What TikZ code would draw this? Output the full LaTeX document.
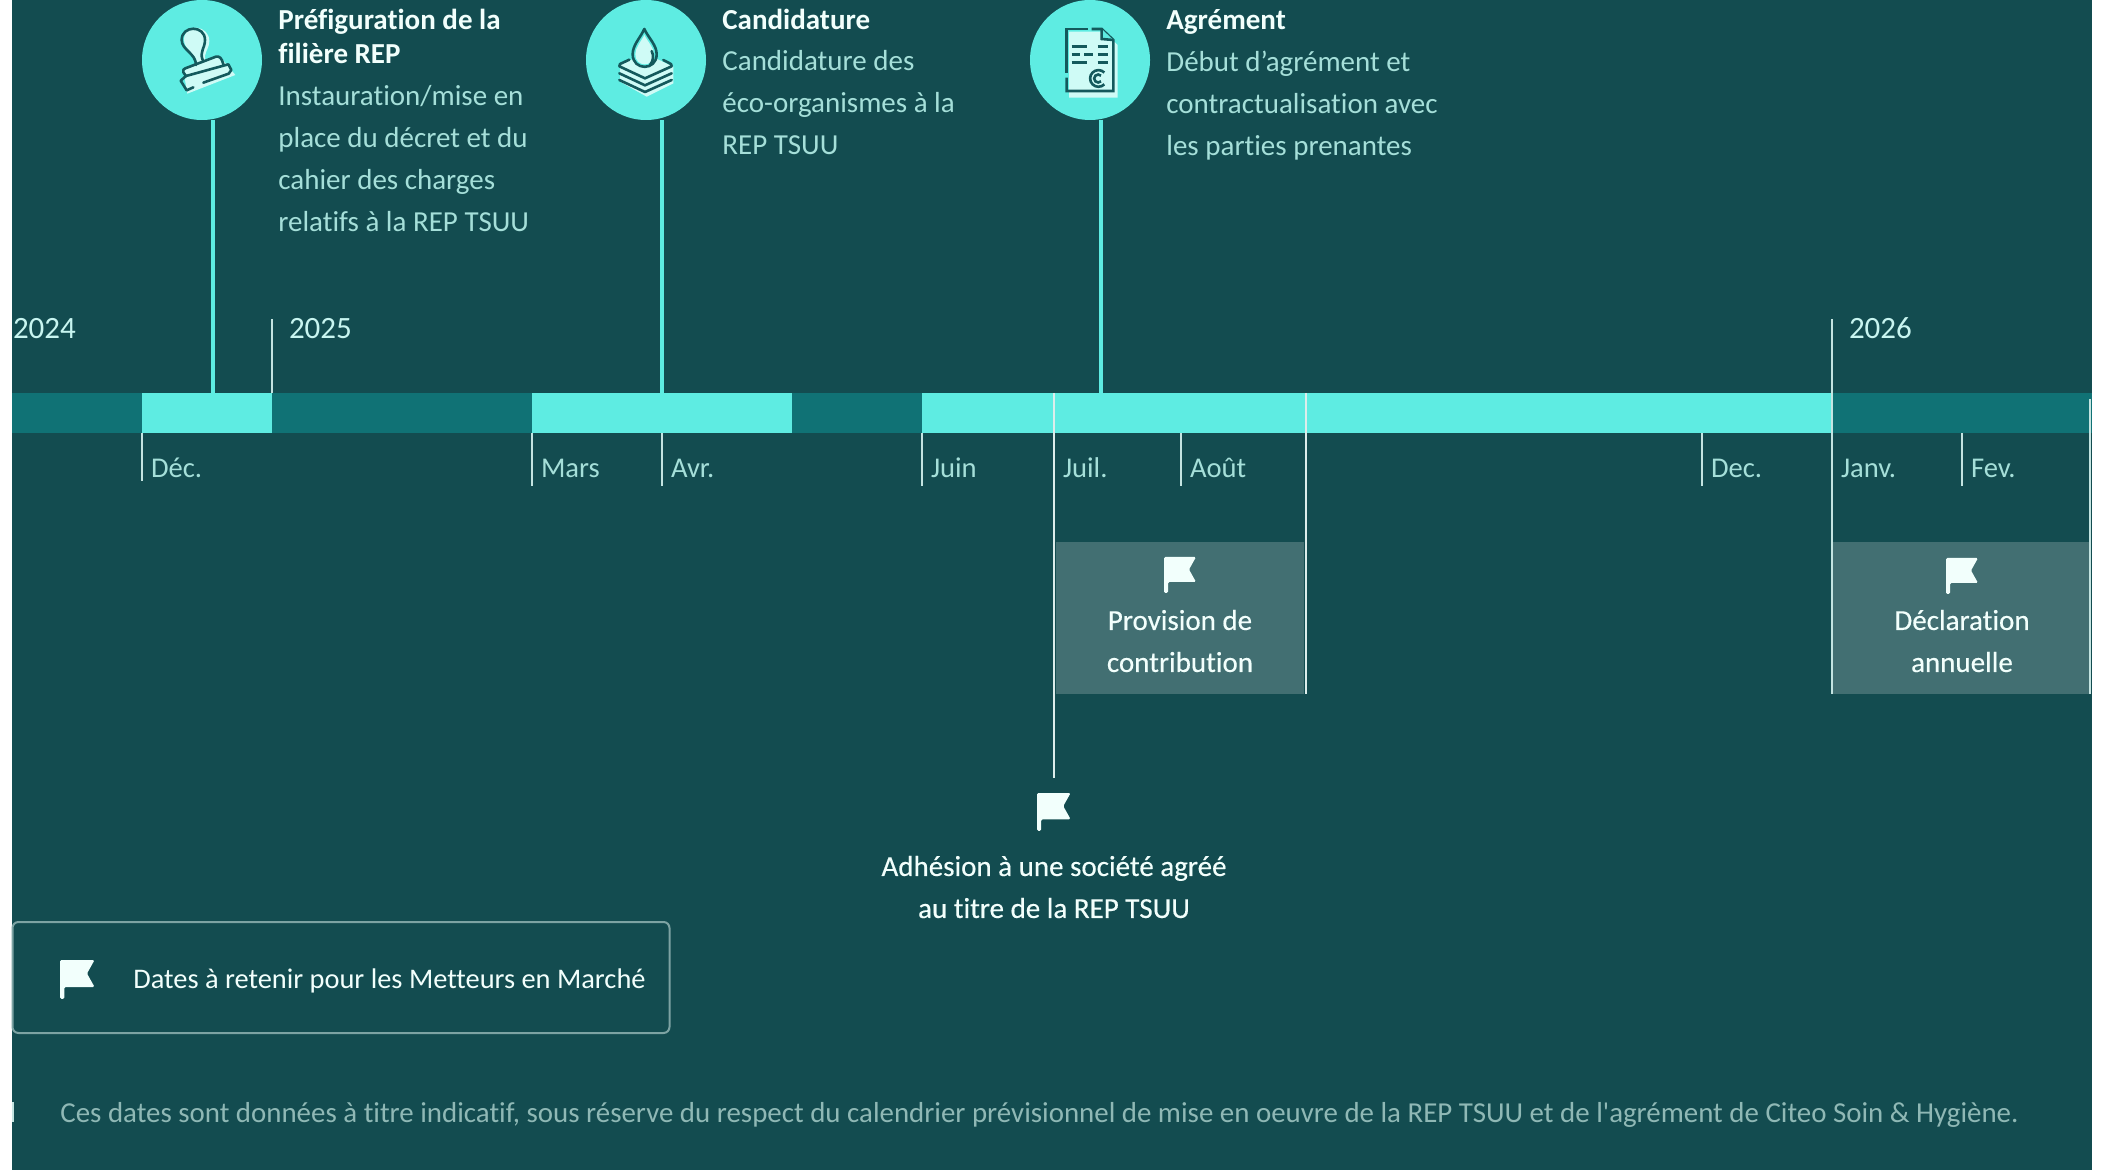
\documentclass[tikz,border=0pt]{standalone}
\usepackage{fontspec}
\setmainfont{Carlito}[Ligatures=NoCommon]
\newfontfamily\notefont{Carlito}[Ligatures=NoCommon]
\newfontfamily\mediumfont{Carlito}[Ligatures=NoCommon, FakeBold=0.35]
\usetikzlibrary{positioning}
\definecolor{tealbg}{HTML}{134C50}
\definecolor{bandlow}{HTML}{107275}
\definecolor{bandhigh}{HTML}{5EECE2}
\definecolor{spanfill}{HTML}{426F72}
\definecolor{iconlight}{HTML}{CFFBF6}
\definecolor{iconline}{HTML}{14595C}
\definecolor{softtext}{HTML}{A5DFD9}
\definecolor{yeartext}{HTML}{C8F5F0}
\definecolor{snow}{HTML}{F2FFFC}
\definecolor{ticklight}{HTML}{C4E4E1}
\definecolor{legendline}{HTML}{7DA3A3}
\definecolor{notetext}{HTML}{8FB8B5}

\tikzset{
  flagmark/.pic={
    \fill[snow, rounded corners=0.7pt] (0,0) -- (32,0) -- (25,12.5) -- (32,25) -- (4,25) -- (4,36) -- (0,36) -- cycle;
  },
  stamppic/.pic={
    \begin{scope}[x=0.16667pt, y=-0.16667pt, line width=1.3pt, draw=iconline, line cap=round, line join=round]
      \fill[iconlight] (70,165) -- (178,122) -- (226,180) -- (82,236) -- cycle;
      \fill[iconlight] (112,150) .. controls (110,115) and (72,105) .. (72,75) .. controls (72,20) and (150,30) .. (148,80) .. controls (146,105) and (130,115) .. (136,135) -- cycle;
      \draw (108,150) .. controls (108,115) and (65,105) .. (65,75) .. controls (65,30) and (135,30) .. (135,75) .. controls (135,100) and (118,110) .. (128,135);
      \draw (78,183) -- (70,172) .. controls (68,165) and (70,162) .. (76,160) -- (168,125) .. controls (178,122) and (186,130) .. (190,148);
      \draw (78,183) -- (205,148) -- (214,165) -- (206,176) -- (130,203);
      \draw (78,183) -- (62,197) -- (80,226) -- (100,217);
    \end{scope}
  },
  droppic/.pic={
    \begin{scope}[x=0.16667pt, y=-0.16667pt, line width=1.3pt, draw=iconline, line cap=round, line join=round]
      \fill[iconlight] (60,150) -- (135,115) -- (220,155) -- (220,205) -- (140,245) -- (60,200) -- cycle;
      \fill[bandhigh] (133,42) .. controls (120,70) and (98,90) .. (98,118) .. controls (98,168) and (170,168) .. (170,118) .. controls (170,90) and (146,70) .. (133,42) -- cycle;
      \fill[iconlight] (133,60) .. controls (122,82) and (106,98) .. (106,118) .. controls (106,158) and (162,158) .. (162,118) .. controls (162,98) and (144,82) .. (133,60) -- cycle;
      \draw (133,42) .. controls (120,70) and (98,90) .. (98,118) .. controls (98,168) and (170,168) .. (170,118) .. controls (170,90) and (146,70) .. (133,42) -- cycle;
      \draw (155,108) .. controls (162,122) and (160,138) .. (150,150);
      \draw (88,134) -- (60,147) -- (58,154) -- (135,190) -- (215,154) -- (213,147) -- (190,135);
      \draw (58,175) -- (135,211) -- (215,175);
      \draw (58,195) -- (135,231) -- (215,195);
    \end{scope}
  },
  docpic/.pic={
    \begin{scope}[x=0.16667pt, y=-0.16667pt, line width=1.3pt, draw=iconline, line join=miter]
      \fill[iconlight] (72,50) -- (175,50) -- (218,90) -- (218,248) -- (72,248) -- cycle;
      \draw (128,42) -- (65,42) -- (65,175);
      \draw (65,188) -- (65,228) -- (205,228) -- (205,75) -- (170,42) -- (140,42);
      \fill[bandhigh] (170,42) -- (170,72) -- (205,75) -- cycle;
      \draw (170,42) -- (170,72) -- (205,75);
      \draw (80,95) -- (125,95);
      \draw (158,95) -- (188,95);
      \draw (80,118) -- (105,118);
      \draw (118,118) -- (145,118);
      \draw (158,118) -- (188,118);
      \draw (80,143) -- (125,143);
      \draw (158,143) -- (188,143);
      \draw (178,208) arc[start angle=45, end angle=315, radius=25];
      \draw (168,199) arc[start angle=45, end angle=315, radius=12];
    \end{scope}
  }
}

\begin{document}
\begin{tikzpicture}[
    x=0.5pt, y=-0.5pt,
    segment/.style={inner sep=0pt, outer sep=0pt, minimum height=20pt, fill=bandhigh},
    medal/.style={circle, fill=bandhigh, inner sep=0pt, outer sep=0pt, minimum size=60pt},
    stem/.style={draw=bandhigh, line width=2pt},
    tick/.style={draw=ticklight, line width=1pt},
    month/.style={anchor=west, inner ysep=0pt, inner xsep=4.5pt, outer sep=0pt, minimum height=15pt, text height=9pt, text depth=2pt, text=softtext, font=\fontsize{14.3}{21}\selectfont},
    year/.style={anchor=west, inner ysep=0pt, inner xsep=8.5pt, outer sep=0pt, minimum height=11pt, text height=9pt, text depth=0pt, text=yeartext, font=\fontsize{15.5}{21}\selectfont},
    heading/.style={anchor=north west, inner sep=0pt, align=left, text=snow, font=\fontsize{14.5}{17}\bfseries\selectfont, execute at begin node=\strut, execute at end node=\strut},
    bodytext/.style={anchor=north west, inner sep=0pt, align=left, text=softtext, font=\fontsize{14.5}{21}\selectfont, execute at begin node=\strut},
    spanbox/.style={inner sep=0pt, outer sep=0pt, fill=spanfill, minimum height=76pt},
    flagtext/.style={align=center, inner sep=0pt, text=snow, font=\fontsize{14.5}{21}\mediumfont}
  ]
    \useasboundingbox (0,0) rectangle (2104,1170);
    \fill[white] (0,0) rectangle (2104,1170);
    \fill[tealbg] (12,0) rectangle (2092,1170);
    \fill[ticklight] (12,1102) rectangle (14,1122);

    % band
    \node[segment, fill=bandlow, minimum width=1040pt] (band) at (1052,413) {};
    \node[segment, minimum width=65pt] (dec) at (207,413) {};
    \node[segment, minimum width=130pt] (mars) at (662,413) {};
    \node[segment, minimum width=455pt] (juin) at (1377,413) {};

    % spans below the band
    \node[spanbox, minimum width=124pt] (provision) at (1180,618) {};
    \node[spanbox, minimum width=128.5pt] (declaration) at (1961.5,618) {};

    % years
    \node[year, inner xsep=0.5pt] (ytwentyfour) at (12,330) {2024};
    \node[year] (ytwentyfive) at (272,330) {2025};
    \node[year] (ytwentysix) at (1832,330) {2026};
    \draw[tick] (ytwentyfive.north west) -- (ytwentyfive.north west |- dec.north);
    \draw[tick] (ytwentysix.north west) -- (ytwentysix.north west |- declaration.south);

    % months
    \node[month] (mdec) at (142,471) {Déc.};
    \node[month] (mmars) at (532,471) {Mars};
    \node[month] (mavr) at (662,471) {Avr.};
    \node[month] (mjuin) at (922,471) {Juin};
    \node[month] (mjuil) at (1054,471) {Juil.};
    \node[month] (maout) at (1181,471) {Août};
    \node[month] (mdecb) at (1702,471) {Dec.};
    \node[month] (mjanv) at (1832,471) {Janv.};
    \node[month] (mfev) at (1962,471) {Fev.};
    \coordinate (dectickend) at (142,481);
    \draw[tick] (dectickend) -- (dectickend |- band.south);
    \draw[tick] (mmars.south west) -- (mmars.south west |- band.south);
    \draw[tick] (mavr.south west) -- (mavr.south west |- band.south);
    \draw[tick] (mjuin.south west) -- (mjuin.south west |- band.south);
    \draw[tick] (maout.south west) -- (maout.south west |- band.south);
    \draw[tick] (mdecb.south west) -- (mdecb.south west |- band.south);
    \draw[tick] (mfev.south west) -- (mfev.south west |- band.south);

    % long ticks
    \coordinate (adhesionend) at (1054,778);
    \coordinate (provisiontop) at (1306,393);
    \coordinate (provisionend) at (1306,694);
    \coordinate (barend) at (2090,399);
    \coordinate (declend) at (2090,694);
    \draw[tick, draw=snow!90!tealbg] (mjuil.west |- band.north) -- (adhesionend);
    \draw[tick, draw=snow!90!tealbg] (provisiontop) -- (provisionend);
    \draw[tick] (barend) -- (declend);

    % milestones
    \node[medal] (prefig) at (202,60) {};
    \node[medal] (candid) at (646,60) {};
    \node[medal] (agrem) at (1090,60) {};
    \coordinate (pina) at (212.5,393);
    \coordinate (pinb) at (662,393);
    \coordinate (pinc) at (1101,393);
    \draw[stem] (pina |- prefig.south) -- (pina);
    \draw[stem] (pinb |- candid.south) -- (pinb);
    \draw[stem] (pinc |- agrem.south) -- (pinc);
    \pic at (160,15) {stamppic};
    \pic at (600,15) {droppic};
    \pic at (1045,15) {docpic};

    \node[heading] (prefighead) at (278,9) {Préfiguration de la\\filière REP};
    \node[bodytext, below=5.3pt of prefighead.south west, anchor=north west] (prefigtext) {Instauration/mise en\\place du décret et du\\cahier des charges\\relatifs à la REP TSUU};
    \node[heading] (candidhead) at (722,5) {Candidature};
    \node[bodytext, below=5.3pt of candidhead.south west, anchor=north west] (candidtext) {Candidature des\\éco-organismes à la\\REP TSUU};
    \node[heading] (agremhead) at (1166,5) {Agrément};
    \node[bodytext, below=5.3pt of agremhead.south west, anchor=north west] (agremtext) {Début d’agrément et\\contractualisation avec\\les parties prenantes};

    % flags
    \pic at (1164,557) {flagmark};
    \pic at (1946,558) {flagmark};
    \pic[scale=1.05] at (1037,793) {flagmark};
    \node[flagtext] (provisiontext) at (1180,641) {Provision de\\contribution};
    \node[flagtext] (declarationtext) at (1962,641) {Déclaration\\annuelle};
    \node[flagtext] (adhesiontext) at (1054,887) {Adhésion à une société agréé\\au titre de la REP TSUU};

    % legend
    \node[draw=legendline, line width=1pt, rounded corners=3pt, inner sep=0pt, minimum width=328.5pt, minimum height=55.5pt] (legend) at (341,977.5) {};
    \pic[scale=1.08] at (60,960) {flagmark};
    \node[anchor=west, inner sep=0pt, text=snow, font=\fontsize{14.2}{21}\selectfont] (legendtext) at (133,980.5) {Dates à retenir pour les Metteurs en Marché};

    \node[anchor=west, inner sep=0pt, text=notetext, font=\fontsize{14.45}{21}\notefont] (note) at (60,1114.5) {Ces dates sont données à titre indicatif, sous réserve du respect du calendrier prévisionnel de mise en oeuvre de la REP TSUU et de l'agrément de Citeo Soin \& Hygiène.};
\end{tikzpicture}
\end{document}
